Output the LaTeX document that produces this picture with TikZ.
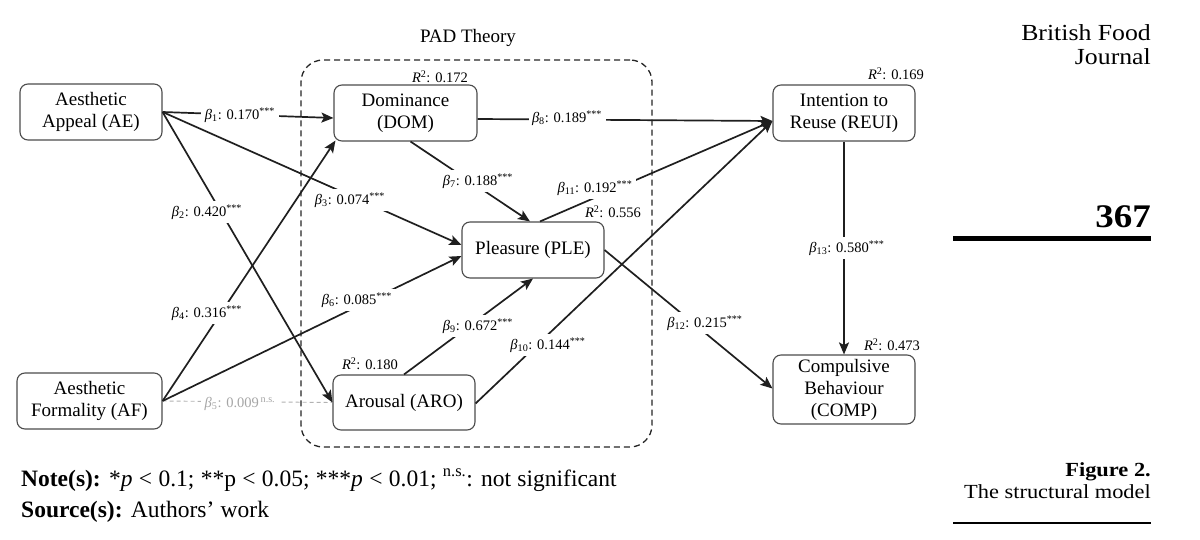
\documentclass[tikz,border=0pt]{standalone}
\usepackage{fontspec}
\setmainfont{Liberation Serif}
\newfontfamily\widefont[FakeStretch=1.12]{Liberation Serif}
\usetikzlibrary{arrows.meta,calc}
\newcommand\bcoef[3]{{\itshape β}\textsubscript{#1}: #2\textsuperscript{#3}}
\newcommand\rsqtxt[1]{{\itshape R}\textsuperscript{2}: #1}
\newcommand\notefont{\fontsize{23.5}{27}\selectfont\spaceskip=0.27em plus 0.1em\relax}
\tikzset{
  box/.style={draw=black!70, line width=1.1pt, rounded corners=8pt, minimum width=142pt,
    minimum height=56pt, align=center, inner sep=0pt, fill=white,
    font=\fontsize{19}{22}\selectfont},
  effect/.style={draw=black!88, line width=1.7pt, -{Stealth[length=12pt,width=10pt,inset=2.5pt]}},
  nseffect/.style={draw=black!30, line width=0.9pt, dash pattern=on 4pt off 3pt},
  coef/.style={fill=white, inner sep=3.5pt, font=\fontsize{14.5}{16}\selectfont},
  rsq/.style={inner sep=1pt, font=\fontsize{14.5}{16}\selectfont},
  padbox/.style={draw=black!85, line width=1.3pt, dash pattern=on 6pt off 4pt, rounded corners=22pt,
    minimum width=351pt, minimum height=387pt, inner sep=0pt},
  side/.style={inner sep=0pt, anchor=base east},
  notetext/.style={inner sep=0pt, anchor=base west, font=\notefont},
}
\begin{document}
\begin{tikzpicture}[x=1pt,y=-1pt]
\useasboundingbox (0,0) rectangle (1200,540);
\fill[white] (0,0) rectangle (1200,540);

% PAD frame
\node[padbox] (pad) at (476.5,253.5) {};
\node[inner sep=0pt, anchor=base, font=\fontsize{19}{22}\selectfont] (padtitle) at (468,43) {PAD Theory};

% constructs
\node[box] (AE) at (91,112) {Aesthetic\\Appeal (AE)};
\node[box, minimum width=145pt] (AF) at (89.5,401) {Aesthetic\\Formality (AF)};
\node[box, minimum width=143pt] (DOM) at (405.5,113) {Dominance\\(DOM)};
\node[box] (PLE) at (533,250) {Pleasure (PLE)};
\node[box, minimum height=55pt] (ARO) at (404,402.5) {Arousal (ARO)};
\node[box] (REUI) at (844,113) {Intention to\\Reuse (REUI)};
\node[box, minimum height=69pt] (COMP) at (844,389.5) {Compulsive\\Behaviour\\(COMP)};

% paths
\draw[nseffect] (AF.east) -- (ARO.west);
\draw[effect] (AE.east) -- ($(DOM.west)+(0,5)$);
\draw[effect] (AE.east) -- ($(PLE.west)+(0,-5)$);
\draw[effect] (AE.east) -- (ARO.west);
\draw[effect] (AF.east) -- ($(DOM.south west)+(2,-1)$);
\draw[effect] (AF.east) -- ($(PLE.west)+(0,6)$);
\draw[effect] ($(DOM.south)+(5,0)$) -- ($(PLE.north)+(-3,0)$);
\draw[effect] ($(DOM.east)+(0,6)$) -- ($(REUI.west)+(0,8)$);
\draw[effect] (ARO.north) -- (PLE.south);
\draw[effect] ($(ARO.east)+(0,1)$) -- ($(REUI.west)+(0,8)$);
\draw[effect] ($(PLE.north)+(7,0)$) -- ($(REUI.west)+(0,8)$);
\draw[effect] (PLE.east) -- ($(COMP.west)+(0,-1)$);
\draw[effect] (REUI.south) -- (COMP.north);

% coefficients
\node[coef] (b1) at (240,115) {\bcoef{1}{0.170}{***}};
\node[coef] (b2) at (207,212) {\bcoef{2}{0.420}{***}};
\node[coef] (b3) at (350,200) {\bcoef{3}{0.074}{***}};
\node[coef] (b4) at (207,313) {\bcoef{4}{0.316}{***}};
\node[coef, text=black!35] (b5) at (240,404) {\bcoef{5}{0.009}{\,n.s.}};
\node[coef] (b6) at (357,300) {\bcoef{6}{0.085}{***}};
\node[coef] (b7) at (478,181) {\bcoef{7}{0.188}{***}};
\node[coef] (b8) at (567,118) {\bcoef{8}{0.189}{***}};
\node[coef] (b9) at (478,326) {\bcoef{9}{0.672}{***}};
\node[coef] (b10) at (548,345) {\bcoef{10}{0.144}{***}};
\node[coef] (b11) at (595,188) {\bcoef{11}{0.192}{***}};
\node[coef] (b12) at (705,323) {\bcoef{12}{0.215}{***}};
\node[coef] (b13) at (847,248) {\bcoef{13}{0.580}{***}};

% R squared
\node[rsq] (r1) at (440,77) {\rsqtxt{0.172}};
\node[rsq] (r2) at (613,212) {\rsqtxt{0.556}};
\node[rsq] (r3) at (370,364) {\rsqtxt{0.180}};
\node[rsq] (r4) at (896,74) {\rsqtxt{0.169}};
\node[rsq] (r5) at (892,345) {\rsqtxt{0.473}};

% notes
\node[notetext] (note) at (21,486)
  {\textbf{Note(s):} *\textit{p} < 0.1; **p < 0.05; ***\textit{p} < 0.01; \textsuperscript{n.s.}: not significant};
\node[notetext] (source) at (21,517)
  {\textbf{Source(s):} Authors’ work};

% side column
\node[side, font=\fontsize{23}{26}\widefont] (journal1) at (1151,41) {British Food};
\node[side, font=\fontsize{23}{26}\widefont] (journal2) at (1151,65) {Journal};
\node[side, font=\fontsize{33}{38}\widefont\bfseries] (page) at (1151,228) {367};
\draw[line width=5pt] (953,239) -- (1151,239);
\node[side, font=\fontsize{20}{24}\widefont\bfseries] (fig) at (1151,476) {Figure 2.};
\node[side, font=\fontsize{20}{24}\widefont] (figcap) at (1151,498) {The structural model};
\draw[line width=2.2pt] (953,523) -- (1151,523);
\end{tikzpicture}
\end{document}
